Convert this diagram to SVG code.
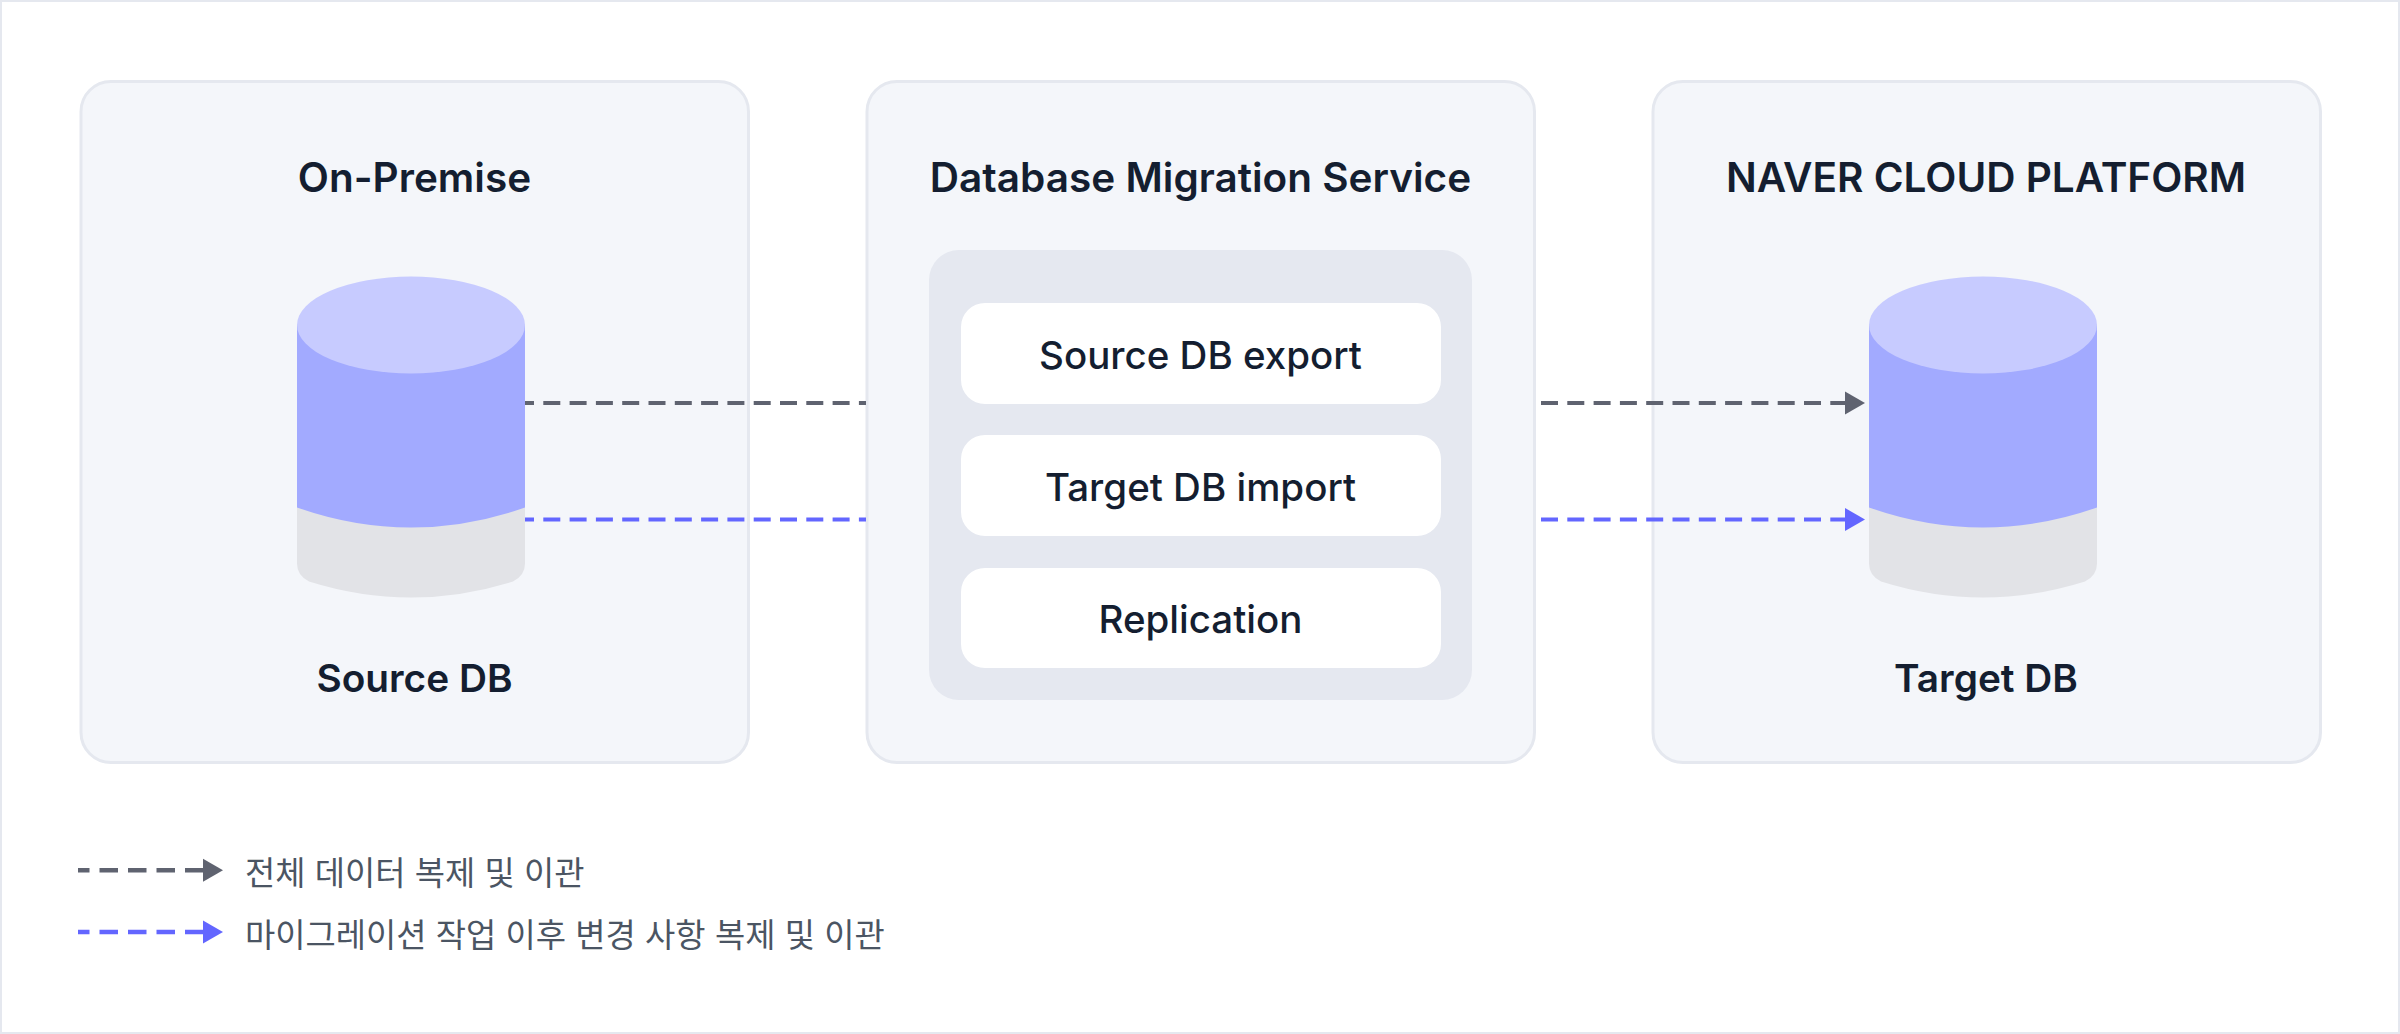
<svg xmlns="http://www.w3.org/2000/svg" width="2400" height="1034" viewBox="0 0 2400 1034">
<style>
.panel{fill:#f4f6fa;stroke:#e5e8ef;stroke-width:3}
.inner{fill:#e5e8f0}
.card{fill:#fff}
.title{font-family:Inter,"Noto Sans CJK KR",sans-serif;font-weight:600;font-size:40.500px;fill:#141e30;text-anchor:middle}
.sub{font-family:Inter,"Noto Sans CJK KR",sans-serif;font-weight:600;font-size:38.800px;fill:#141e30;text-anchor:middle}
.item{font-family:Inter,"Noto Sans CJK KR",sans-serif;font-weight:500;font-size:38.500px;fill:#141e30;text-anchor:middle}
.legend{font-family:Inter,"Noto Sans CJK KR",sans-serif;font-weight:400;font-size:32.900px;fill:#4b5563}
.top{fill:#c7cbff}.body{fill:#a2aaff}.base{fill:#e2e3e7}
.gray{stroke:#5f6370;fill:none;stroke-width:4.200;stroke-dasharray:17 9.300}
.blue{stroke:#6366ff;fill:none;stroke-width:4.200;stroke-dasharray:17 9.300}
.lg{stroke-width:4.600;stroke-dasharray:18.500 10}
.hg{fill:#5f6370}.hb{fill:#6366ff}
</style>
<defs>
<g id="cyl">
<path class="base" d="M0 180V287Q0 299 12 305Q114 337 216 305Q228 299 228 287V180Z"/>
<path class="body" d="M0 48V231Q114 271 228 231V48Z"/>
<ellipse class="top" cx="114" cy="48.500" rx="114" ry="48.500"/>
</g>
<polygon id="head" points="0,-11.500 20,0 0,11.500"/>
</defs>
<rect x="0" y="0" width="2400" height="1034" fill="#fff" stroke="#e5e8ef" stroke-width="4"/>
<g id="panel-onpremise">
<rect class="panel" x="81" y="81.500" width="667.500" height="681" rx="30"/>
<text class="title" x="414.500" y="191.800">On-Premise</text>
<use href="#cyl" x="297" y="276.500"/>
<text class="sub" x="414.500" y="691.500">Source DB</text>
</g>
<g id="panel-dms">
<rect class="panel" x="867" y="81.500" width="667.500" height="681" rx="30"/>
<text class="title" x="1200.500" y="191.800">Database Migration Service</text>
<rect class="inner" x="929" y="250" width="543" height="450" rx="30"/>
<g id="step-export"><rect class="card" x="961" y="303" width="480" height="101" rx="24"/><text class="item" x="1200.500" y="368.800">Source DB export</text></g>
<g id="step-import"><rect class="card" x="961" y="435" width="480" height="101" rx="24"/><text class="item" x="1200.500" y="500.800">Target DB import</text></g>
<g id="step-replication"><rect class="card" x="961" y="568" width="480" height="100" rx="24"/><text class="item" x="1200.500" y="633.300">Replication</text></g>
</g>
<g id="panel-ncp">
<rect class="panel" x="1653" y="81.500" width="667.500" height="681" rx="30"/>
<text class="title" x="1986" y="191.800">NAVER CLOUD PLATFORM</text>
<use href="#cyl" x="1869" y="276.500"/>
<text class="sub" x="1986" y="691.500">Target DB</text>
</g>
<g id="connectors">
<path class="gray" d="M525 403H866" stroke-dashoffset="8"/>
<path class="blue" d="M525 519.500H866" stroke-dashoffset="8"/>
<path class="gray" d="M1541 403H1846"/>
<use href="#head" class="hg" x="1845" y="403"/>
<path class="blue" d="M1541 519.500H1846"/>
<use href="#head" class="hb" x="1845" y="519.500"/>
</g>
<g id="legend">
<path class="gray lg" d="M78 870.200H204" stroke-dashoffset="7"/>
<use href="#head" class="hg" x="203" y="870.200"/>
<text class="legend" x="245" y="884.500">전체 데이터 복제 및 이관</text>
<path class="blue lg" d="M78 932H204" stroke-dashoffset="7"/>
<use href="#head" class="hb" x="203" y="932"/>
<text class="legend" x="245" y="946.500">마이그레이션 작업 이후 변경 사항 복제 및 이관</text>
</g>
</svg>
